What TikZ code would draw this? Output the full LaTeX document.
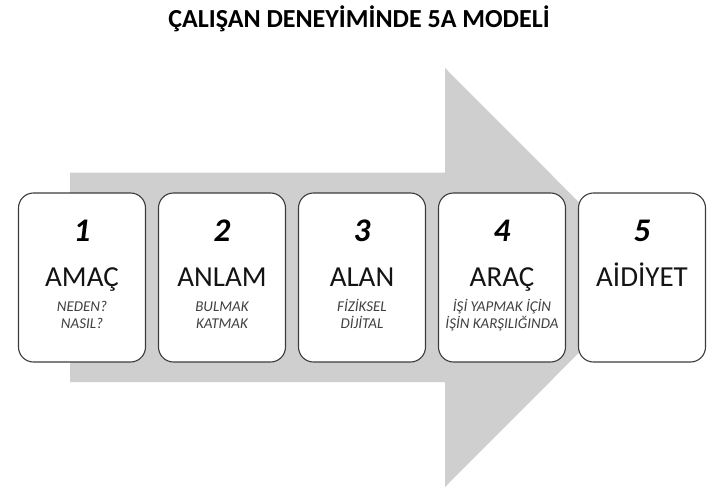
\documentclass[tikz,border=0pt]{standalone}
\usepackage{fontspec}
\setmainfont{Carlito}
\definecolor{fiveAArrow}{RGB}{207,207,207}
\definecolor{fiveABorder}{RGB}{60,60,60}
\definecolor{fiveAText}{RGB}{20,20,20}
\definecolor{fiveANote}{RGB}{64,64,64}
\begin{document}
\begin{tikzpicture}[x=1pt,y=-1pt,
      heading/.style={font=\fontsize{26}{30}\selectfont\bfseries,
        text=black, anchor=base, inner sep=0pt},
      card/.style={draw=fiveABorder, fill=white, rounded corners=15pt,
        line width=1.1pt, minimum width=127pt, minimum height=169pt,
        inner sep=0pt},
      number/.style={font=\fontsize{33}{37}\selectfont\bfseries\itshape,
        text=black, anchor=base, inner sep=0pt},
      word/.style={font=\fontsize{29}{33}\selectfont,
        text=fiveAText, anchor=base, inner sep=0pt},
      note/.style={font=\fontsize{15}{16.6}\selectfont\itshape,
        text=fiveANote, anchor=base, align=center, inner sep=0pt}]
      \useasboundingbox (0,0) rectangle (720,492);
      \fill[white] (0,0) rectangle (720,492);
      \node[heading] (title) at (359,28) {ÇALIŞAN DENEYİMİNDE 5A MODELİ};

      \fill[fiveAArrow] (70,172.5) -- (445,172.5) -- (445,68) -- (654,277.5)
        -- (445,487) -- (445,382) -- (70,382) -- cycle;

      \foreach[count=\i] \w/\n in {AMAÇ/{NEDEN?\\NASIL?},
          ANLAM/{BULMAK\\KATMAK},
          ALAN/{FİZİKSEL\\DİJİTAL},
          ARAÇ/{İŞİ YAPMAK İÇİN\\İŞİN KARŞILIĞINDA},
          AİDİYET/{}}{
        \node[card] (box\i) at ({82+140*(\i-1)},277.5) {};
        \node[number] (num\i) at ({82+140*(\i-1)},241.7) {\i};
        \node[word] (word\i) at ({82+140*(\i-1)},286) {\w};
        \node[note] (note\i) at ({82+140*(\i-1)},328.3) {\n};}
    \end{tikzpicture}
\end{document}
